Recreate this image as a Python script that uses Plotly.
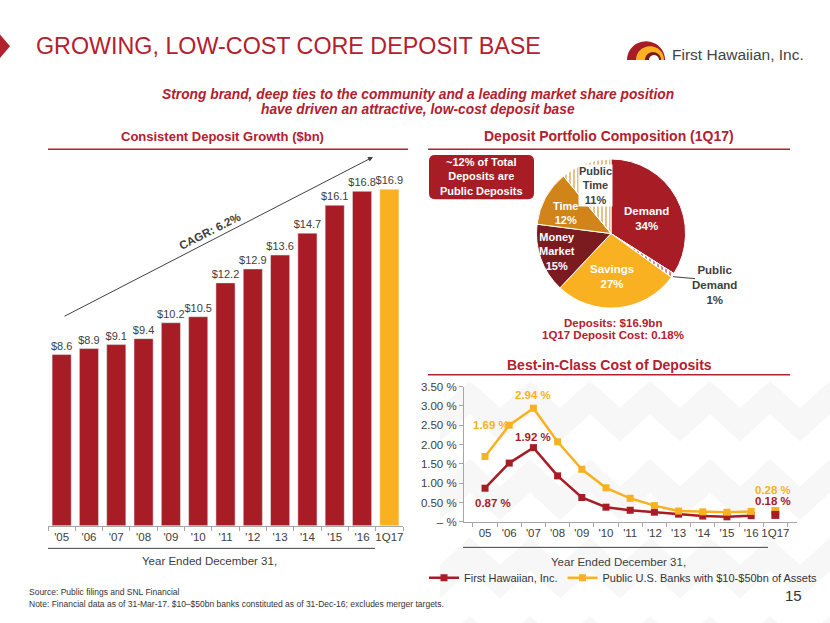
import plotly.graph_objects as go
import math

W, H = 830, 623
def X(p): return p / W
def Y(p): return 1 - p / H

RED = "#A81C26"
GOLD = "#F9B122"
DARK = "#7B1B1F"
OCHRE = "#D0841A"
TRED = "#B3202E"
GREY = "#404040"
FONT = "Liberation Sans, Arial, sans-serif"
NARROW = "Liberation Sans Narrow, Arial Narrow, Liberation Sans, sans-serif"

# ---- data ----
bar_cats = ["'05", "'06", "'07", "'08", "'09", "'10", "'11", "'12", "'13", "'14", "'15", "'16", "1Q17"]
bar_vals = [8.6, 8.9, 9.1, 9.4, 10.2, 10.5, 12.2, 12.9, 13.6, 14.7, 16.1, 16.8, 16.9]
bar_labels = ["$8.6", "$8.9", "$9.1", "$9.4", "$10.2", "$10.5", "$12.2", "$12.9", "$13.6", "$14.7", "$16.1", "$16.8", "$16.9"]

pie_labels = ["Demand", "Public Demand", "Savings", "Money Market", "Time", "Public Time"]
pie_vals = [34, 1, 27, 15, 12, 11]

line_cats = ["05", "'06", "'07", "'08", "'09", "'10", "'11", "'12", "'13", "'14", "'15", "'16", "1Q17"]
fhb_cost = [0.87, 1.52, 1.92, 1.19, 0.63, 0.38, 0.30, 0.25, 0.20, 0.15, 0.13, 0.16, 0.18]
peer_cost = [1.69, 2.50, 2.94, 2.07, 1.36, 0.88, 0.61, 0.42, 0.28, 0.26, 0.25, 0.27, 0.28]
y_ticks = [0, 0.5, 1.0, 1.5, 2.0, 2.5, 3.0, 3.5]
y_ticktext = ["– %", "0.50 %", "1.00 %", "1.50 %", "2.00 %", "2.50 %", "3.00 %", "3.50 %"]

fig = go.Figure()

# ---- bar chart ----
bar_colors = [RED] * (len(bar_vals) - 1) + [GOLD]
fig.add_trace(go.Bar(x=bar_cats, y=bar_vals, marker_color=bar_colors, text=bar_labels,
                     textposition="outside", constraintext="none",
                     textfont=dict(size=11, color=GREY, family=FONT),
                     cliponaxis=False, showlegend=False, xaxis="x", yaxis="y"))

# ---- pie ----
fig.add_trace(go.Pie(labels=pie_labels, values=pie_vals, sort=False, direction="clockwise",
                     rotation=0, textinfo="none", showlegend=False,
                     marker=dict(colors=[RED, "white", GOLD, DARK, OCHRE, "white"],
                                 line=dict(color="white", width=1),
                                 pattern=dict(shape=["", "|", "", "", "", "|"],
                                              fgcolor=[RED, RED, GOLD, DARK, OCHRE, OCHRE],
                                              fillmode="overlay", size=4, solidity=0.5)),
                     domain=dict(x=[X(535), X(687)], y=[Y(308), Y(156)])))

# ---- line chart ----
n = len(line_cats) - 1
fig.add_trace(go.Scatter(x=line_cats[:n], y=fhb_cost[:n], mode="lines+markers", name="First Hawaiian, Inc.",
                         line=dict(color=RED, width=2.5), marker=dict(symbol="square", size=7, color=RED),
                         xaxis="x2", yaxis="y2", cliponaxis=False))
fig.add_trace(go.Scatter(x=line_cats[:n], y=peer_cost[:n], mode="lines+markers",
                         name="Public U.S. Banks with $10-$50bn of Assets",
                         line=dict(color=GOLD, width=2.5), marker=dict(symbol="square", size=7, color=GOLD),
                         xaxis="x2", yaxis="y2", cliponaxis=False))
fig.add_trace(go.Scatter(x=line_cats[n:], y=peer_cost[n:], mode="markers", showlegend=False,
                         marker=dict(symbol="square", size=8, color=GOLD), xaxis="x2", yaxis="y2", cliponaxis=False))
fig.add_trace(go.Scatter(x=line_cats[n:], y=fhb_cost[n:], mode="markers", showlegend=False,
                         marker=dict(symbol="square", size=8, color=RED), xaxis="x2", yaxis="y2", cliponaxis=False))

axis_common = dict(showgrid=False, zeroline=False, linecolor="#A6A6A6", linewidth=1,
                   tickcolor="#A6A6A6", ticklen=4, tickangle=0,
                   tickfont=dict(size=11.5, color=GREY, family=FONT))

fig.update_layout(
    width=W, height=H, margin=dict(l=0, r=0, t=0, b=0),
    paper_bgcolor="white", plot_bgcolor="rgba(0,0,0,0)",
    font=dict(family=FONT, color=GREY),
    bargap=0.3,
    xaxis=dict(domain=[X(48), X(403)], anchor="y", showline=True, ticks="outside",
               tickson="boundaries", type="category", **axis_common),
    yaxis=dict(domain=[Y(530), Y(124)], anchor="x", range=[0, 20], visible=False),
    xaxis2=dict(domain=[X(464), X(797)], anchor="y2", showline=True, ticks="outside",
                tickson="boundaries", type="category", **axis_common),
    yaxis2=dict(domain=[Y(526), Y(388)], anchor="x2", range=[0, 3.5], showline=True, ticks="outside",
                tickvals=y_ticks, ticktext=y_ticktext, **axis_common),
    legend=dict(orientation="h", x=X(424), y=Y(583), xanchor="left", yanchor="middle",
                font=dict(size=11, color="#333333", family=FONT), bgcolor="rgba(0,0,0,0)",
                itemwidth=30, tracegroupgap=0),
)

shapes = []
ann = []

def text(x, y, s, size=11, color=GREY, bold=False, italic=False, family=FONT, xanchor="center", **kw):
    if bold:
        s = "<b>" + s + "</b>"
    if italic:
        s = "<i>" + s + "</i>"
    ann.append(dict(x=X(x), y=Y(y), xref="paper", yref="paper", text=s, showarrow=False,
                    xanchor=xanchor, yanchor="middle", font=dict(size=size, color=color, family=family), **kw))

def line(x0, y0, x1, y1, color="#404040", width=1):
    shapes.append(dict(type="line", xref="paper", yref="paper", x0=X(x0), y0=Y(y0), x1=X(x1), y1=Y(y1),
                       line=dict(color=color, width=width)))

# faint chevron watermark (decorative)
for cx in range(440, 830, 60):
    for cy in range(410, 660, 80):
        pts = [(cx, cy), (cx + 30, cy - 28), (cx + 60, cy), (cx + 60, cy + 34), (cx + 30, cy + 6), (cx, cy + 34)]
        p = "M " + " L ".join(f"{X(a)},{Y(b)}" for a, b in pts) + " Z"
        shapes.append(dict(type="path", xref="paper", yref="paper", path=p, fillcolor="#F7F7F7",
                           line=dict(width=0), layer="below"))

# header
shapes.append(dict(type="path", xref="paper", yref="paper",
                   path=f"M {X(0)},{Y(29)} L {X(10)},{Y(41)} L {X(0)},{Y(53)} Z",
                   fillcolor=TRED, line=dict(width=0)))
text(34, 41, "GROWING, LOW-COST CORE DEPOSIT BASE", size=23.3, color=TRED, family=NARROW, xanchor="left")

# logo (decorative arcs)
def half_disc(cx, cy, r, color):
    pts = [(cx + r * math.cos(math.pi * k / 30), cy - r * math.sin(math.pi * k / 30)) for k in range(31)]
    p = "M " + " L ".join(f"{X(a)},{Y(b)}" for a, b in pts) + " Z"
    shapes.append(dict(type="path", xref="paper", yref="paper", path=p, fillcolor=color, line=dict(width=0)))
half_disc(646, 55, 19, RED)
half_disc(650, 55, 14, GOLD)
half_disc(653, 55, 8, DARK)
half_disc(654, 55, 5, "white")
text(670, 49, "First Hawaiian, Inc.", size=15.5, color="#444444", xanchor="left")

text(418, 90, "Strong brand, deep ties to the community and a leading market share position", size=13.8,
     color=TRED, bold=True, italic=True)
text(418, 106, "have driven an attractive, low-cost deposit base", size=13.8, color=TRED, bold=True, italic=True)

# section headers
text(222, 133, "Consistent Deposit Growth ($bn)", size=13, color=TRED, bold=True)
line(48, 146, 408, 146, TRED, 1.5)
text(609, 133, "Deposit Portfolio Composition (1Q17)", size=14, color=TRED, bold=True)
line(428, 146, 790, 146, TRED, 1.5)
text(609, 366, "Best-in-Class Cost of Deposits", size=14, color=TRED, bold=True)
line(428, 376, 790, 376, TRED, 1.5)

# bar chart extras
ann.append(dict(x=X(373), y=Y(154), xref="paper", yref="paper", ax=63 - 373, ay=314 - 154,
                axref="pixel", ayref="pixel", text="", showarrow=True, arrowhead=2, arrowsize=1,
                arrowwidth=1, arrowcolor="#404040"))
text(210, 229, "CAGR: 6.2%", size=11.5, color=GREY, bold=True, textangle=-27)
line(48, 553, 375, 553, "#404040", 1)
text(210, 566, "Year Ended December 31,", size=11.5, color=GREY)

# pie extras
r = 6
x0, x1, y0, y1 = 429, 534, 152, 197
shapes.append(dict(type="path", xref="paper", yref="paper",
                   path=(f"M {X(x0+r)},{Y(y0)} L {X(x1-r)},{Y(y0)} Q {X(x1)},{Y(y0)} {X(x1)},{Y(y0+r)} "
                         f"L {X(x1)},{Y(y1-r)} Q {X(x1)},{Y(y1)} {X(x1-r)},{Y(y1)} "
                         f"L {X(x0+r)},{Y(y1)} Q {X(x0)},{Y(y1)} {X(x0)},{Y(y1-r)} "
                         f"L {X(x0)},{Y(y0+r)} Q {X(x0)},{Y(y0)} {X(x0+r)},{Y(y0)} Z"),
                   fillcolor=RED, line=dict(width=0)))
text(481, 174, "~12% of Total<br>Deposits are<br>Public Deposits", size=11, color="white", bold=True)

text(646, 217, "Demand<br>34%", size=11.5, color="white", bold=True)
text(612, 276, "Savings<br>27%", size=11.5, color="white", bold=True)
text(557, 250, "Money<br>Market<br>15%", size=11, color="white", bold=True)
text(565, 211, "Time<br>12%", size=11, color="white", bold=True)
text(595, 183, "Public<br>Time<br>11%", size=11, color=GREY, bold=True, bgcolor="white", borderpad=0)
text(714, 284, "Public<br>Demand<br>1%", size=11.5, color=GREY, bold=True)
line(673, 276, 695, 278, "#404040", 1)
text(613, 323, "Deposits: $16.9bn", size=11.5, color=TRED, bold=True)
text(613, 335, "1Q17 Deposit Cost: 0.18%", size=11.5, color=TRED, bold=True)

# line chart labels
def dlabel(i, series, s, color, xs, ys):
    ann.append(dict(x=i, y=series[i], xref="x2", yref="y2", text="<b>" + s + "</b>",
                    xanchor="center", yanchor="middle",
                    showarrow=False, xshift=xs, yshift=ys, font=dict(size=11.5, color=color, family=FONT)))
dlabel(0, peer_cost, "1.69 %", GOLD, 6, 32)
dlabel(2, peer_cost, "2.94 %", GOLD, 0, 13)
dlabel(2, fhb_cost, "1.92 %", RED, 0, 11)
dlabel(0, fhb_cost, "0.87 %", RED, 8, -15)
dlabel(12, peer_cost, "0.28 %", GOLD, -2, 21)
dlabel(12, fhb_cost, "0.18 %", RED, -2, 14)
line(463, 552, 768, 552, "#404040", 1)
text(618, 567, "Year Ended December 31,", size=11.5, color=GREY)

# footer
text(27, 598, "Source: Public filings and SNL Financial", size=8.5, color="#333333", family=NARROW, xanchor="left")
text(27, 610, "Note: Financial data as of 31-Mar-17. $10\u2013$50bn banks constituted as of 31-Dec-16; excludes merger targets.",
     size=8.5, color="#333333", family=NARROW, xanchor="left")
text(804, 601, "15", size=15, color="#333333", xanchor="right")

fig.update_layout(shapes=shapes, annotations=ann)
fig.write_html("out.html", config={"displayModeBar": False},
               post_script="document.body.style.margin='0';document.body.style.overflow='hidden';")
